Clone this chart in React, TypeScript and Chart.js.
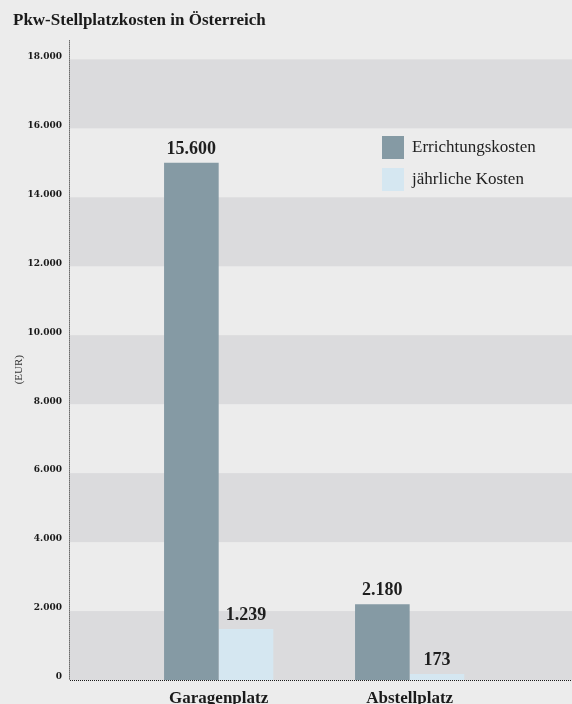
import React, { useEffect, useRef } from "react";
import { Chart, registerables } from "chart.js";

Chart.register(...registerables);

const title = "Pkw-Stellplatzkosten in Österreich";
const categories = ["Garagenplatz", "Abstellplatz"];
const seriesNames = ["Errichtungskosten", "jährliche Kosten"];
const errichtungValues = [15000, 2200];
const jaehrlichValues = [1480, 173];
const errichtungLabels = ["15.600", "2.180"];
const jaehrlichLabels = ["1.239", "173"];
const yTicks = [0, 2000, 4000, 6000, 8000, 10000, 12000, 14000, 16000, 18000];
const yTickLabels = ["0", "2.000", "4.000", "6.000", "8.000", "10.000", "12.000", "14.000", "16.000", "18.000"];
const yAxisTitle = "(EUR)";

const BG = "#ececec";
const BAND = "#dbdbdd";
const DARK = "#859aa4";
const LIGHT = "#d5e7f1";
const SERIF = "'Liberation Serif', 'Times New Roman', serif";

export default function App() {
  const ref = useRef<HTMLCanvasElement | null>(null);

  useEffect(() => {
    document.body.style.margin = "0";
    document.body.style.background = BG;
    const canvas = ref.current;
    if (!canvas) return;

    const valueLabels = [errichtungLabels, jaehrlichLabels];

    const bandsPlugin = {
      id: "bands",
      beforeDraw(chart: any) {
        const { ctx, chartArea } = chart;
        ctx.save();
        ctx.fillStyle = BG;
        ctx.fillRect(0, 0, chart.width, chart.height);
        const y = chart.scales.y;
        ctx.fillStyle = BAND;
        for (let i = 0; i < yTicks.length - 1; i += 2) {
          const top = y.getPixelForValue(yTicks[i + 1]);
          const bot = y.getPixelForValue(yTicks[i]);
          ctx.fillRect(chartArea.left, top, chartArea.right - chartArea.left, bot - top);
        }
        ctx.restore();
      },
    };

    const axesPlugin = {
      id: "dottedAxes",
      afterDraw(chart: any) {
        const { ctx, chartArea } = chart;
        ctx.save();
        ctx.strokeStyle = "#1a1a1a";
        ctx.lineWidth = 1;
        ctx.setLineDash([1, 1]);
        ctx.beginPath();
        ctx.moveTo(chartArea.left - 0.5, chartArea.top);
        ctx.lineTo(chartArea.left - 0.5, chartArea.bottom);
        ctx.moveTo(chartArea.left, chartArea.bottom + 0.5);
        ctx.lineTo(chartArea.right, chartArea.bottom + 0.5);
        ctx.stroke();
        ctx.setLineDash([]);
        const y = chart.scales.y;
        const cy = (y.getPixelForValue(yTicks[0]) + y.getPixelForValue(yTicks[yTicks.length - 1])) / 2;
        ctx.translate(19.5, cy);
        ctx.rotate(-Math.PI / 2);
        ctx.font = `11px ${SERIF}`;
        ctx.fillStyle = "#333";
        ctx.textAlign = "center";
        ctx.textBaseline = "middle";
        ctx.fillText(yAxisTitle, 0, 0);
        ctx.restore();
      },
    };

    const labelsPlugin = {
      id: "valueLabels",
      afterDatasetsDraw(chart: any) {
        const { ctx } = chart;
        ctx.save();
        ctx.font = `bold 18px ${SERIF}`;
        ctx.fillStyle = "#1e1e1e";
        ctx.textAlign = "center";
        ctx.textBaseline = "alphabetic";
        chart.data.datasets.forEach((ds: any, di: number) => {
          const meta = chart.getDatasetMeta(di);
          meta.data.forEach((bar: any, i: number) => {
            ctx.fillText(valueLabels[di][i], bar.x, bar.y - 9);
          });
        });
        ctx.restore();
      },
    };

    const legendPlugin = {
      id: "customLegend",
      afterDraw(chart: any) {
        const { ctx } = chart;
        ctx.save();
        ctx.font = `17px ${SERIF}`;
        ctx.textAlign = "left";
        ctx.textBaseline = "middle";
        chart.data.datasets.forEach((ds: any, i: number) => {
          const bx = 382;
          const by = 136 + i * 32;
          ctx.fillStyle = ds.backgroundColor;
          ctx.fillRect(bx, by, 22, 23);
          ctx.fillStyle = "#222";
          ctx.fillText(ds.label, 412, by + 12);
        });
        ctx.restore();
      },
    };

    const chart = new Chart(canvas, {
      type: "bar",
      data: {
        datasets: [
          {
            label: seriesNames[0],
            data: categories.map((c, i) => ({ x: i + 1, y: errichtungValues[i] })),
            backgroundColor: DARK,
            borderWidth: 0,
          },
          {
            label: seriesNames[1],
            data: categories.map((c, i) => ({ x: i + 1, y: jaehrlichValues[i] })),
            backgroundColor: LIGHT,
            borderWidth: 0,
          },
        ],
      },
      options: {
        animation: false,
        responsive: false,
        maintainAspectRatio: false,
        layout: { padding: { left: 13, right: 0, top: 0, bottom: 0 } },
        datasets: { bar: { categoryPercentage: 0.572, barPercentage: 1 } },
        plugins: {
          legend: { display: false },
          tooltip: { enabled: false },
          title: {
            display: true,
            text: title,
            align: "start",
            color: "#1a1a1a",
            font: { family: SERIF, size: 17, weight: "bold" },
            padding: { top: 10, bottom: 10 },
          },
        },
        scales: {
          x: {
            type: "linear",
            offset: false,
            min: 0.2215,
            max: 2.85,
            grid: { display: false, drawTicks: false },
            border: { display: false },
            afterBuildTicks(scale: any) {
              scale.ticks = categories.map((c, i) => ({ value: i + 1 }));
            },
            afterFit(scale: any) {
              scale.height = 24;
            },
            ticks: {
              autoSkip: false,
              maxRotation: 0,
              padding: 8,
              color: "#1a1a1a",
              font: { family: SERIF, size: 17, weight: "bold" },
              callback: (v: any) => categories[Math.round(v) - 1] ?? "",
            },
          },
          y: {
            type: "linear",
            min: 0,
            max: 18550,
            grid: { display: false, drawTicks: false },
            border: { display: false },
            afterBuildTicks(scale: any) {
              scale.ticks = yTicks.map((v) => ({ value: v }));
            },
            afterFit(scale: any) {
              scale.width = 57;
            },
            ticks: {
              autoSkip: false,
              padding: 8,
              labelOffset: -3,
              color: "#1a1a1a",
              font: { family: "'DejaVu Serif', serif", size: 9, weight: "bold" },
              callback: (v: any) => yTickLabels[yTicks.indexOf(v)] ?? "",
            },
          },
        },
      },
      plugins: [bandsPlugin, labelsPlugin, legendPlugin, axesPlugin],
    } as any);

    return () => chart.destroy();
  }, []);

  return (
    <div style={{ width: 572, height: 704, background: BG }}>
      <canvas ref={ref} width={572} height={704} style={{ display: "block" }} />
    </div>
  );
}
